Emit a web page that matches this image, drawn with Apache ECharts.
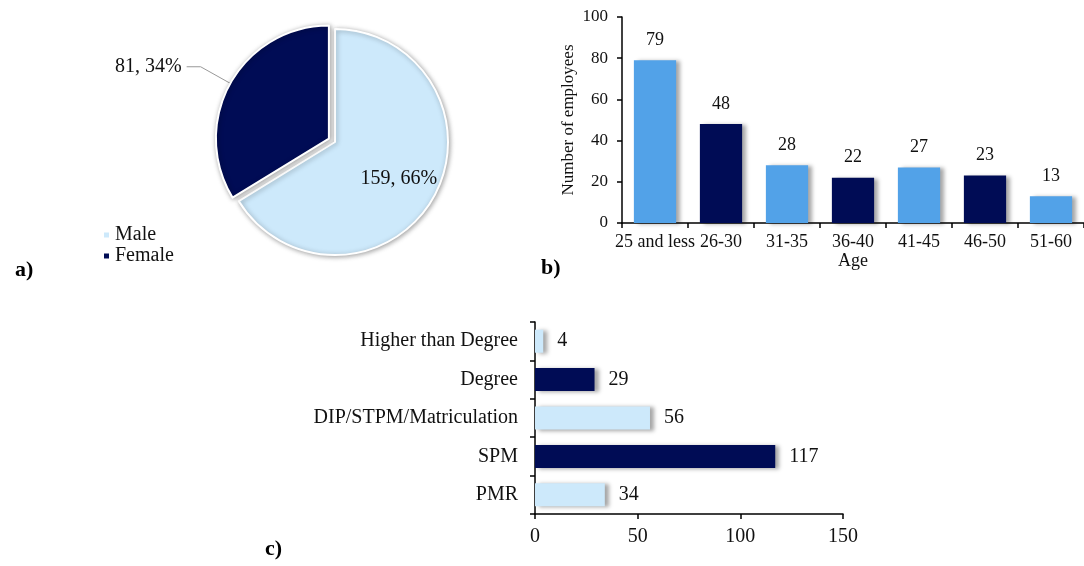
<!DOCTYPE html>
<html>
<head>
<meta charset="utf-8">
<script src="https://cdn.jsdelivr.net/npm/echarts@6/dist/echarts.min.js"></script>
<style>
  html, body { margin: 0; padding: 0; background: #fff; }
  #chart { width: 1084px; height: 566px; }
</style>
</head>
<body>
<div id="chart"></div>
<script>
// a) gender
const genderNames = ['Male', 'Female']
const genderValues = [159, 81]
const genderPct = [66, 34]

// b) age
const ageGroups = ['25 and less', '26-30', '31-35', '36-40', '41-45', '46-50', '51-60']
const ageCounts = [79, 48, 28, 22, 27, 23, 13]
const ageTicks = [0, 20, 40, 60, 80, 100]

// c) education
const eduLevels = ['PMR', 'SPM', 'DIP/STPM/Matriculation', 'Degree', 'Higher than Degree']
const eduCounts = [34, 117, 56, 29, 4]
const eduTicks = [0, 50, 100, 150]

// colours
const lightBlue = '#cde9fb'
const midBlue = '#52a2e8'
const navy = '#000c55'
const serif = '"Liberation Serif", "DejaVu Serif", serif'

const chart = echarts.init(document.getElementById('chart'))

const barShadow = {
  shadowColor: 'rgba(0,0,0,0.35)',
  shadowBlur: 4,
  shadowOffsetX: 4,
  shadowOffsetY: 1
}
const axisBlack = { show: true, lineStyle: { color: '#000', width: 1.5 } }
const tickBlack = { show: true, length: 5, lineStyle: { color: '#000', width: 1.5 } }

const option = {
  backgroundColor: '#fff',
  animation: false,
  textStyle: { fontFamily: serif, color: '#111' },
  title: [
    { text: 'a)', left: 10, top: 254, textStyle: { fontFamily: serif, fontSize: 22, fontWeight: 'bold', color: '#000' } },
    { text: 'b)', left: 536, top: 252, textStyle: { fontFamily: serif, fontSize: 22, fontWeight: 'bold', color: '#000' } },
    { text: 'c)', left: 260, top: 533, textStyle: { fontFamily: serif, fontSize: 22, fontWeight: 'bold', color: '#000' } }
  ],
  legend: {
    data: genderNames,
    orient: 'vertical',
    left: 97,
    top: 220,
    icon: 'rect',
    itemWidth: 7,
    itemHeight: 7,
    itemGap: 1,
    textStyle: { fontFamily: serif, fontSize: 20, color: '#111' }
  },
  grid: [
    { left: 622, right: 0, top: 17, bottom: 343 },
    { left: 535, right: 241, top: 322, bottom: 52 }
  ],
  xAxis: [
    {
      gridIndex: 0,
      type: 'category',
      data: ageGroups,
      name: 'Age',
      nameLocation: 'middle',
      nameGap: 28,
      nameTextStyle: { fontFamily: serif, fontSize: 18, color: '#111' },
      axisLine: axisBlack,
      axisTick: tickBlack,
      axisLabel: { fontFamily: serif, fontSize: 18, color: '#111', margin: 10, interval: 0 }
    },
    {
      gridIndex: 1,
      type: 'value',
      min: eduTicks[0],
      max: eduTicks[eduTicks.length - 1],
      interval: eduTicks[1] - eduTicks[0],
      splitLine: { show: false },
      axisLine: axisBlack,
      axisTick: tickBlack,
      axisLabel: { fontFamily: serif, fontSize: 20, color: '#111', margin: 13 }
    }
  ],
  yAxis: [
    {
      gridIndex: 0,
      type: 'value',
      min: ageTicks[0],
      max: ageTicks[ageTicks.length - 1],
      interval: ageTicks[1] - ageTicks[0],
      name: 'Number of employees',
      nameLocation: 'middle',
      nameGap: 45,
      nameTextStyle: { fontFamily: serif, fontSize: 17, color: '#111' },
      splitLine: { show: false },
      axisLine: axisBlack,
      axisTick: tickBlack,
      axisLabel: { fontFamily: serif, fontSize: 17, color: '#111', margin: 14 }
    },
    {
      gridIndex: 1,
      type: 'category',
      data: eduLevels,
      axisLine: axisBlack,
      axisTick: tickBlack,
      axisLabel: { fontFamily: serif, fontSize: 20, color: '#111', margin: 17 }
    }
  ],
  series: [
    {
      type: 'pie',
      name: 'Gender',
      center: [335, 142],
      radius: 113,
      startAngle: 90,
      clockwise: true,
      selectedMode: 'single',
      selectedOffset: 7,
      itemStyle: {
        borderColor: '#fff',
        borderWidth: 2,
        shadowColor: 'rgba(0,0,0,0.35)',
        shadowBlur: 5,
        shadowOffsetX: 1,
        shadowOffsetY: 1
      },
      label: {
        fontFamily: serif,
        fontSize: 20,
        color: '#111',
        formatter: (p) => p.value + ', ' + genderPct[p.dataIndex] + '%'
      },
      labelLine: { length: 34, length2: 14, lineStyle: { color: '#999', width: 1 } },
      data: genderNames.map((n, i) => ({
        name: n,
        value: genderValues[i],
        selected: i === 1,
        itemStyle: { color: i === 0 ? lightBlue : navy },
        label: i === 0
          ? { position: 'inside', offset: [12, 8] }
          : { position: 'outside' },
        labelLine: { show: i === 1 }
      }))
    },
    {
      type: 'bar',
      name: 'Age',
      xAxisIndex: 0,
      yAxisIndex: 0,
      barCategoryGap: '36%',
      data: ageCounts.map((v, i) => ({
        value: v,
        itemStyle: Object.assign({ color: i % 2 === 0 ? midBlue : navy }, barShadow)
      })),
      label: {
        show: true,
        position: 'top',
        distance: 11,
        fontFamily: serif,
        fontSize: 18,
        color: '#111'
      }
    },
    {
      type: 'bar',
      name: 'Education',
      xAxisIndex: 1,
      yAxisIndex: 1,
      barCategoryGap: '40%',
      data: eduCounts.map((v, i) => ({
        value: v,
        itemStyle: Object.assign({ color: i % 2 === 0 ? lightBlue : navy }, barShadow)
      })),
      label: {
        show: true,
        position: 'right',
        distance: 14,
        fontFamily: serif,
        fontSize: 20,
        color: '#111'
      }
    }
  ]
}

chart.setOption(option)
</script>
</body>
</html>
